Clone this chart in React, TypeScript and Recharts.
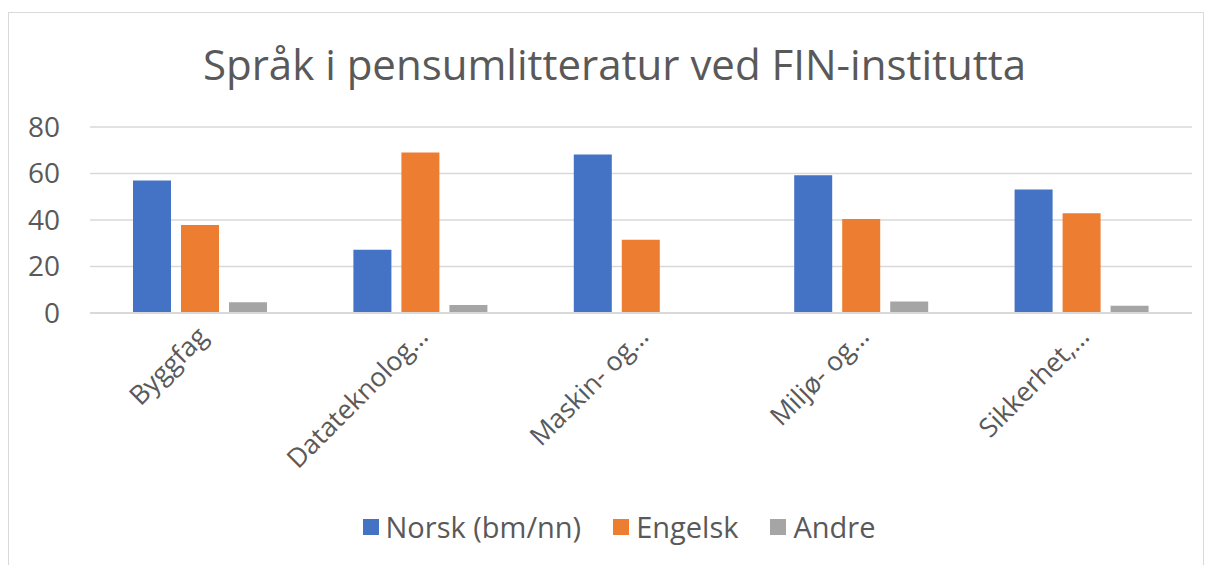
import React from "react";
import { BarChart, Bar, XAxis, YAxis, CartesianGrid } from "recharts";

const categories = ["Byggfag", "Datateknolog…", "Maskin- og…", "Miljø- og…", "Sikkerhet,…"];
const norsk = [57, 27.2, 68.2, 59.2, 53.1];
const engelsk = [37.9, 69, 31.5, 40.4, 42.9];
const andre = [4.6, 3.4, 0, 4.9, 3.1];
const yTicks = [0, 20, 40, 60, 80];
const seriesNames = ["Norsk (bm/nn)", "Engelsk", "Andre"];
const seriesColors = ["#4472C4", "#ED7D31", "#A5A5A5"];
const title = "Språk i pensumlitteratur ved FIN-institutta";

const data = categories.map((c, i) => ({
  name: c,
  norsk: norsk[i],
  engelsk: engelsk[i],
  andre: andre[i],
}));

const FONT = "'Open Sans', sans-serif";
const TEXT = "#595959";

const XTick = (props: any) => {
  const { x, y, payload } = props;
  return (
    <g transform={`translate(${x + 2},${y + 10})`}>
      <text
        transform="rotate(-45)"
        textAnchor="end"
        fill={TEXT}
        fontSize={26.5}
        fontFamily={FONT}
        dy={10}
      >
        {payload.value}
      </text>
    </g>
  );
};

export default function App() {
  return (
    <div
      style={{
        position: "absolute",
        left: 0,
        top: 0,
        width: 1209,
        height: 565,
        overflow: "hidden",
        background: "#fff",
        fontFamily: FONT,
      }}
    >
      <div
        style={{
          position: "absolute",
          left: 8,
          top: 12,
          width: 1196,
          height: 600,
          border: "1px solid #D9D9D9",
          boxSizing: "border-box",
        }}
      />
      <div
        style={{
          position: "absolute",
          left: 0,
          top: 35,
          width: 1229,
          textAlign: "center",
          fontSize: 42,
          color: TEXT,
          lineHeight: "58px",
          whiteSpace: "nowrap",
        }}
      >
        {title}
      </div>
      <div style={{ position: "absolute", left: 0, top: 0 }}>
        <BarChart
          width={1209}
          height={565}
          data={data}
          margin={{ top: 127, right: 17, left: 0, bottom: 60 }}
          barGap={10}
          barSize={38}
        >
          <CartesianGrid vertical={false} stroke="#D9D9D9" strokeWidth={1.5} />
          <XAxis
            dataKey="name"
            height={192}
            interval={0}
            axisLine={{ stroke: "#D9D9D9", strokeWidth: 2 }}
            tickLine={false}
            tick={<XTick />}
          />
          <YAxis
            width={90}
            domain={[0, 80]}
            ticks={yTicks}
            axisLine={false}
            tickLine={false}
            tickSize={0}
            tickMargin={30}
            tick={{ fill: TEXT, fontSize: 28, fontFamily: FONT }}
          />
          <Bar dataKey="norsk" name={seriesNames[0]} fill={seriesColors[0]} isAnimationActive={false} />
          <Bar dataKey="engelsk" name={seriesNames[1]} fill={seriesColors[1]} isAnimationActive={false} />
          <Bar dataKey="andre" name={seriesNames[2]} fill={seriesColors[2]} isAnimationActive={false} />
        </BarChart>
      </div>
      <div
        style={{
          position: "absolute",
          left: 0,
          top: 507,
          width: 1238,
          display: "flex",
          justifyContent: "center",
          gap: 32,
          fontSize: 29,
          color: TEXT,
          lineHeight: "40px",
        }}
      >
        {seriesNames.map((n, i) => (
          <div key={n} style={{ display: "flex", alignItems: "center" }}>
            <span
              style={{
                display: "inline-block",
                width: 16,
                height: 16,
                background: seriesColors[i],
                marginRight: 7,
              }}
            />
            <span>{n}</span>
          </div>
        ))}
      </div>
    </div>
  );
}
